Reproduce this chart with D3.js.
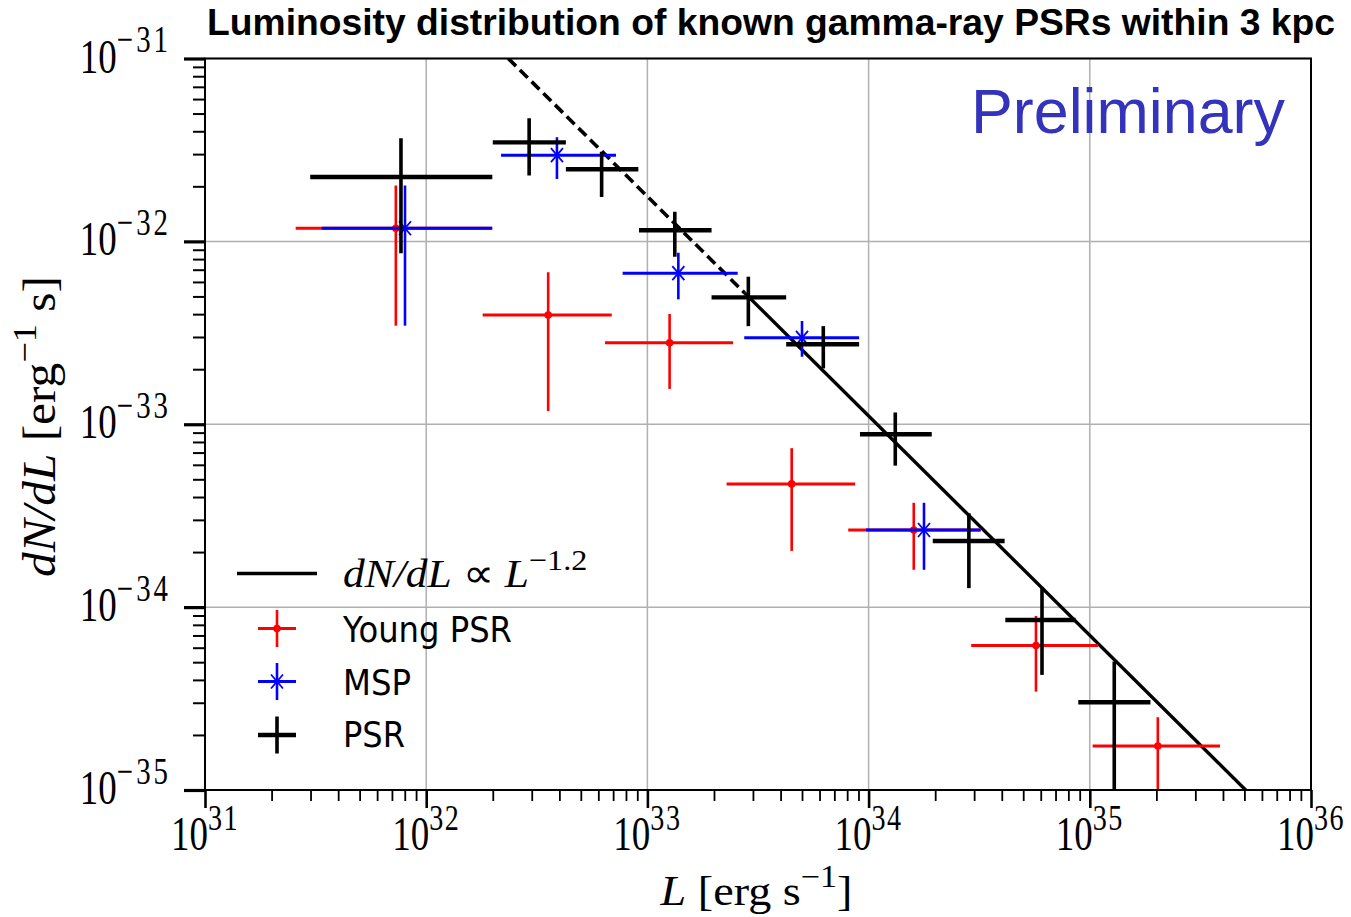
<!DOCTYPE html>
<html>
<head>
<meta charset="utf-8">
<script src="https://cdn.jsdelivr.net/npm/d3@7"></script>
<style>
  body { margin: 0; background: #fff; }
  svg { display: block; }
</style>
</head>
<body>
<svg id="chart" width="1351" height="917"></svg>
<script>
// ---- Data: binned luminosity function dN/dL of gamma-ray pulsars (d < 3 kpc) ----
// All pulsars
const psrL   = [7.69e31, 2.92e32, 6.21e32, 1.33e33, 2.86e33, 6.24e33, 1.32e34, 2.84e34, 6.08e34, 1.29e35];
const psrLlo = [2.99e31, 2.00e32, 4.28e32, 9.16e32, 1.95e33, 4.24e33, 9.14e33, 1.95e34, 4.15e34, 8.87e34];
const psrLhi = [1.99e32, 4.28e32, 9.10e32, 1.95e33, 4.24e33, 9.06e33, 1.93e34, 4.12e34, 8.63e34, 1.88e35];
const psrN   = [2.25e-32, 3.48e-32, 2.48e-32, 1.15e-32, 4.94e-33, 2.74e-33, 8.81e-34, 2.30e-34, 8.51e-35, 3.02e-35];
const psrNlo = [8.6e-33, 2.29e-32, 1.75e-32, 8.24e-33, 3.44e-33, 2.02e-33, 5.94e-34, 1.27e-34, 4.26e-35, 0];
const psrNhi = [3.66e-32, 4.71e-32, 3.09e-32, 1.45e-32, 6.41e-33, 3.44e-33, 1.16e-33, 3.26e-34, 1.29e-34, 5.04e-35];

// Young pulsars
const youngL   = [7.29e31, 3.56e32, 1.26e33, 4.49e33, 1.60e34, 5.71e34, 2.03e35];
const youngLlo = [2.57e31, 1.80e32, 6.43e32, 2.28e33, 8.09e33, 2.91e34, 1.03e35];
const youngLhi = [1.98e32, 6.90e32, 2.44e33, 8.69e33, 3.21e34, 1.09e35, 3.88e35];
const youngN   = [1.18e-32, 3.96e-33, 2.79e-33, 4.72e-34, 2.64e-34, 6.17e-35, 1.74e-35];
const youngNlo = [3.46e-33, 1.18e-33, 1.56e-33, 2.03e-34, 1.60e-34, 3.45e-35, 0];
const youngNhi = [2.02e-32, 6.78e-33, 4.01e-33, 7.40e-34, 3.72e-34, 8.95e-35, 2.50e-35];

// Millisecond pulsars
const mspL   = [8.02e31, 3.90e32, 1.38e33, 5.00e33, 1.78e34];
const mspLlo = [3.37e31, 2.18e32, 7.73e32, 2.74e33, 9.73e33];
const mspLhi = [1.99e32, 7.21e32, 2.56e33, 9.06e33, 3.21e34];
const mspN   = [1.18e-32, 2.96e-32, 6.70e-33, 2.97e-33, 2.64e-34];
const mspNlo = [3.46e-33, 2.19e-32, 4.82e-33, 2.34e-33, 1.60e-34];
const mspNhi = [2.02e-32, 3.71e-32, 8.67e-33, 3.67e-33, 3.72e-34];

// Power-law model dN/dL = norm * (L / pivot)^index
const plIndex = -1.2;
const plNorm = 1.76e-32;
const plPivot = 1e33;
const plDashedL = [1e32, 2.75e33];
const plSolidL = [2.75e33, 1e36];

// Axis decades
const xTickExp = [31, 32, 33, 34, 35, 36];
const yTickExp = [-31, -32, -33, -34, -35];

// ---- Layout ----
const svg = d3.select("#chart");
const plot = { left: 205, right: 1311, top: 58.5, bottom: 790 };

const x = d3.scaleLog().domain([1e31, 1e36]).range([plot.left, plot.right]);
const y = d3.scaleLog().domain([1e-35, 1e-31]).range([plot.bottom, plot.top]);

const SERIF = "'Liberation Serif', 'Times New Roman', serif";
const SANS = "'Liberation Sans', Arial, sans-serif";
const LEGSANS = "'DejaVu Sans', sans-serif";

svg.append("defs").append("clipPath").attr("id", "plotClip")
  .append("rect")
  .attr("x", plot.left).attr("y", plot.top)
  .attr("width", plot.right - plot.left).attr("height", plot.bottom - plot.top);

// ---- Grid ----
const grid = svg.append("g").attr("stroke", "#b0b0b0").attr("stroke-width", 1.5);
grid.selectAll("line.gx").data(xTickExp).join("line")
  .attr("x1", e => x(Math.pow(10, e))).attr("x2", e => x(Math.pow(10, e)))
  .attr("y1", plot.top).attr("y2", plot.bottom);
grid.selectAll("line.gy").data(yTickExp).join("line")
  .attr("y1", e => y(Math.pow(10, e))).attr("y2", e => y(Math.pow(10, e)))
  .attr("x1", plot.left).attr("x2", plot.right);

// ---- Power-law line ----
const plot_g = svg.append("g").attr("clip-path", "url(#plotClip)");
const pl = L => plNorm * Math.pow(L / plPivot, plIndex);
const plLine = d3.line().x(L => x(L)).y(L => y(pl(L)));
plot_g.append("path").attr("d", plLine(plDashedL))
  .attr("fill", "none").attr("stroke", "#000").attr("stroke-width", 3.6)
  .attr("stroke-dasharray", "11,5.5");
plot_g.append("path").attr("d", plLine(plSolidL))
  .attr("fill", "none").attr("stroke", "#000").attr("stroke-width", 3.4);

// ---- Error bar series ----
function series(L, Llo, Lhi, N, Nlo, Nhi, color, hw, vw, marker) {
  const g = plot_g.append("g");
  const idx = d3.range(L.length);
  g.selectAll("line.h").data(idx).join("line")
    .attr("x1", i => x(Llo[i])).attr("x2", i => x(Lhi[i]))
    .attr("y1", i => y(N[i])).attr("y2", i => y(N[i]))
    .attr("stroke", color).attr("stroke-width", hw);
  g.selectAll("line.v").data(idx).join("line")
    .attr("x1", i => x(L[i])).attr("x2", i => x(L[i]))
    .attr("y1", i => y(Nhi[i]))
    .attr("y2", i => Nlo[i] > 0 ? y(Nlo[i]) : plot.bottom + 10)
    .attr("stroke", color).attr("stroke-width", vw);
  if (marker === "dot") {
    g.selectAll("circle").data(idx).join("circle")
      .attr("cx", i => x(L[i])).attr("cy", i => y(N[i])).attr("r", 3.8)
      .attr("fill", color);
  } else if (marker === "star") {
    g.selectAll("path.m").data(idx).join("path")
      .attr("d", i => {
        const cx = x(L[i]), cy = y(N[i]);
        return `M${cx - 6},${cy - 7}L${cx + 6},${cy + 7}M${cx - 6},${cy + 7}L${cx + 6},${cy - 7}`;
      })
      .attr("stroke", color).attr("stroke-width", 1.8).attr("fill", "none");
  }
}
series(youngL, youngLlo, youngLhi, youngN, youngNlo, youngNhi, "#ff0000", 3, 2.6, "dot");
series(mspL, mspLlo, mspLhi, mspN, mspNlo, mspNhi, "#0000ff", 3, 2.6, "star");
series(psrL, psrLlo, psrLhi, psrN, psrNlo, psrNhi, "#000000", 4.4, 3.6, null);

// ---- Frame ----
svg.append("rect")
  .attr("x", plot.left).attr("y", plot.top)
  .attr("width", plot.right - plot.left).attr("height", plot.bottom - plot.top)
  .attr("fill", "none").attr("stroke", "#000").attr("stroke-width", 2);

// ---- Ticks ----
const xMajor = xTickExp.map(e => Math.pow(10, e));
const xMinor = [];
xTickExp.slice(0, -1).forEach(e => { for (let k = 2; k <= 9; k++) xMinor.push(k * Math.pow(10, e)); });
const yMajor = yTickExp.map(e => Math.pow(10, e));
const yMinor = [];
yTickExp.slice(1).forEach(e => { for (let k = 2; k <= 9; k++) yMinor.push(k * Math.pow(10, e)); });

function styleAxis(g, w) {
  g.select(".domain").remove();
  g.selectAll(".tick line").attr("stroke", "#000").attr("stroke-width", w);
  g.selectAll(".tick text").remove();
}
svg.append("g").attr("transform", `translate(0,${plot.bottom})`)
  .call(d3.axisBottom(x).tickValues(xMinor).tickSize(11).tickFormat(""))
  .call(g => styleAxis(g, 1.8));
svg.append("g").attr("transform", `translate(0,${plot.bottom})`)
  .call(d3.axisBottom(x).tickValues(xMajor).tickSize(18).tickFormat(""))
  .call(g => styleAxis(g, 2.6));
svg.append("g").attr("transform", `translate(${plot.left},0)`)
  .call(d3.axisLeft(y).tickValues(yMinor).tickSize(12).tickFormat(""))
  .call(g => styleAxis(g, 2));
svg.append("g").attr("transform", `translate(${plot.left},0)`)
  .call(d3.axisLeft(y).tickValues(yMajor).tickSize(21).tickFormat(""))
  .call(g => styleAxis(g, 3.2));

// ---- Text helper: parts with optional italic / superscript, fitted width and stretch ----
function label(parent, px, py, parts, o) {
  const g = parent.append("g")
    .attr("transform", `translate(${px},${py})` + (o.rotate ? ` rotate(${o.rotate})` : ""));
  const t = g.append("text")
    .attr("font-family", o.family).attr("font-size", o.size)
    .attr("text-anchor", o.anchor || "start")
    .attr("fill", o.color || "#000");
  if (o.weight) t.attr("font-weight", o.weight);
  let shift = 0;
  const supSize = o.size * (o.supRatio || 0.74);
  const supRaise = o.size * (o.supRaise || 0.42);
  parts.forEach(p => {
    const ts = t.append("tspan").text(p.text);
    if (p.italic) ts.attr("font-style", "italic");
    const target = p.sup ? -supRaise : 0;
    if (target !== shift) { ts.attr("dy", target - shift); shift = target; }
    if (p.sup) {
      ts.attr("font-size", supSize);
      if (o.supSpacing) ts.attr("letter-spacing", o.supSpacing);
    }
  });
  let sx = o.sx || 1;
  if (o.width) sx = o.width / t.node().getBBox().width;
  t.attr("transform", `scale(${sx},${o.sy || 1})`);
  return t;
}

// Tick labels
xTickExp.forEach(e => {
  label(svg, x(Math.pow(10, e)), 850, [{ text: "10" }, { text: String(e), sup: true }],
    { family: SERIF, size: 37, anchor: "middle", sy: 1.3, supRatio: 0.76, supSpacing: 1.5 });
});
yTickExp.forEach(e => {
  label(svg, 171, y(Math.pow(10, e)) + 14, [{ text: "10" }, { text: "\u2212" + String(-e), sup: true }],
    { family: SERIF, size: 37, anchor: "end", sy: 1.3, supRatio: 0.78, supSpacing: 3 });
});

// Axis titles
label(svg, 756.5, 905,
  [{ text: "L", italic: true }, { text: "  [erg s" }, { text: "\u22121", sup: true }, { text: "]" }],
  { family: SERIF, size: 40, anchor: "middle", width: 193, sy: 1.05 });
label(svg, 55, 426.5,
  [{ text: "dN/dL", italic: true }, { text: " [erg" }, { text: "\u22121", sup: true }, { text: " s]" }],
  { family: SERIF, size: 46, anchor: "middle", rotate: -90, width: 301 });

// Title
label(svg, 771, 35, [{ text: "Luminosity distribution of known gamma-ray PSRs within 3 kpc" }],
  { family: SANS, size: 35, weight: "bold", anchor: "middle", width: 1128, sy: 1.05 });

// Watermark
label(svg, 971, 133, [{ text: "Preliminary" }],
  { family: SANS, size: 62, color: "#3333bb", width: 314 });

// ---- Legend ----
const leg = svg.append("g");
leg.append("line").attr("x1", 237).attr("x2", 317).attr("y1", 573.5).attr("y2", 573.5)
  .attr("stroke", "#000").attr("stroke-width", 3.6);
label(leg, 343, 586.5,
  [{ text: "dN/dL", italic: true }, { text: " \u221D " }, { text: "L", italic: true }, { text: "\u22121.2", sup: true }],
  { family: SERIF, size: 38, width: 244, sy: 1.05 });

function legendHandle(cy, color, hw, vw, marker) {
  const cx = 277;
  leg.append("line").attr("x1", cx - 19).attr("x2", cx + 19).attr("y1", cy).attr("y2", cy)
    .attr("stroke", color).attr("stroke-width", hw);
  leg.append("line").attr("x1", cx).attr("x2", cx).attr("y1", cy - 18.5).attr("y2", cy + 18.5)
    .attr("stroke", color).attr("stroke-width", vw);
  if (marker === "dot") {
    leg.append("circle").attr("cx", cx).attr("cy", cy).attr("r", 3.8).attr("fill", color);
  } else if (marker === "star") {
    leg.append("path")
      .attr("d", `M${cx - 6},${cy - 7}L${cx + 6},${cy + 7}M${cx - 6},${cy + 7}L${cx + 6},${cy - 7}`)
      .attr("stroke", color).attr("stroke-width", 1.8);
  }
}
legendHandle(628.5, "#ff0000", 3, 2.6, "dot");
legendHandle(681.5, "#0000ff", 3, 2.6, "star");
legendHandle(735, "#000000", 4.4, 3.6, null);

label(leg, 343, 642, [{ text: "Young PSR" }], { family: LEGSANS, size: 36, width: 170 });
label(leg, 343, 695, [{ text: "MSP" }], { family: LEGSANS, size: 36, width: 68 });
label(leg, 343, 747, [{ text: "PSR" }], { family: LEGSANS, size: 36, width: 62 });
</script>
</body>
</html>
